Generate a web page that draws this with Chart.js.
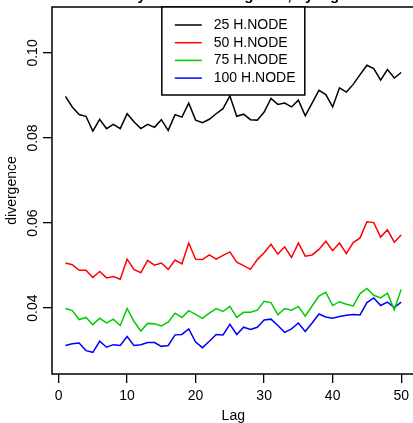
<!DOCTYPE html>
<html>
<head>
<meta charset="utf-8">
<script src="https://cdn.jsdelivr.net/npm/chart.js@4.4.0/dist/chart.umd.min.js"></script>
<style>
  html, body { margin: 0; padding: 0; overflow: hidden; background: #fff; }
  #wrap { position: relative; width: 416px; height: 423px; }
</style>
</head>
<body>
<div id="wrap"><canvas id="divChart" width="416" height="423"></canvas></div>
<script>
// Lags (x categories)
const lags = [1, 2, 3, 4, 5, 6, 7, 8, 9, 10,
              11, 12, 13, 14, 15, 16, 17, 18, 19, 20,
              21, 22, 23, 24, 25, 26, 27, 28, 29, 30,
              31, 32, 33, 34, 35, 36, 37, 38, 39, 40,
              41, 42, 43, 44, 45, 46, 47, 48, 49, 50];

// Divergence per hidden node count
const node25 = [0.0898, 0.0873, 0.0855, 0.0851, 0.0816, 0.0844, 0.0822, 0.0832, 0.0822, 0.0857,
                0.0838, 0.0822, 0.0832, 0.0825, 0.0843, 0.0818, 0.0855, 0.0849, 0.0882, 0.0842,
                0.0836, 0.0844, 0.0857, 0.0869, 0.0899, 0.0851, 0.0856, 0.0843, 0.0842, 0.0861,
                0.0893, 0.0879, 0.0882, 0.0873, 0.0889, 0.0852, 0.0882, 0.0912, 0.0902, 0.0873,
                0.0918, 0.0908, 0.0926, 0.0949, 0.0971, 0.0963, 0.0936, 0.0961, 0.0941, 0.0954];
const node50 = [0.0506, 0.0502, 0.0489, 0.0489, 0.0472, 0.0486, 0.0471, 0.0474, 0.0468, 0.0515,
                0.0491, 0.0483, 0.0512, 0.0501, 0.0506, 0.0491, 0.0513, 0.0504, 0.0553, 0.0515,
                0.0514, 0.0525, 0.0515, 0.0524, 0.0532, 0.0508, 0.0500, 0.0491, 0.0514, 0.0530,
                0.0550, 0.0527, 0.0544, 0.0519, 0.0553, 0.0522, 0.0525, 0.0538, 0.0557, 0.0535,
                0.0553, 0.0528, 0.0554, 0.0565, 0.0603, 0.0601, 0.0567, 0.0584, 0.0555, 0.0572];
const node75 = [0.0399, 0.0394, 0.0373, 0.0378, 0.0361, 0.0376, 0.0365, 0.0374, 0.0359, 0.0399,
                0.0369, 0.0346, 0.0364, 0.0363, 0.0358, 0.0367, 0.0388, 0.0378, 0.0394, 0.0385,
                0.0376, 0.0388, 0.0399, 0.0392, 0.0404, 0.0378, 0.0390, 0.0390, 0.0395, 0.0416,
                0.0413, 0.0384, 0.0399, 0.0395, 0.0404, 0.0381, 0.0405, 0.0428, 0.0437, 0.0406,
                0.0415, 0.0409, 0.0405, 0.0434, 0.0446, 0.0430, 0.0424, 0.0435, 0.0396, 0.0444];
const node100 = [0.0312, 0.0316, 0.0318, 0.0300, 0.0296, 0.0322, 0.0308, 0.0314, 0.0312, 0.0333,
                 0.0312, 0.0314, 0.0319, 0.0319, 0.0310, 0.0312, 0.0337, 0.0338, 0.0351, 0.0320,
                 0.0307, 0.0322, 0.0338, 0.0337, 0.0362, 0.0338, 0.0355, 0.0350, 0.0355, 0.0372,
                 0.0374, 0.0359, 0.0343, 0.0351, 0.0365, 0.0345, 0.0365, 0.0386, 0.0379, 0.0376,
                 0.0380, 0.0383, 0.0385, 0.0384, 0.0413, 0.0424, 0.0406, 0.0414, 0.0401, 0.0414];

const seriesNames = ['25 H.NODE', '50 H.NODE', '75 H.NODE', '100 H.NODE'];

// Tick labels
const xTicks = [0, 10, 20, 30, 40, 50];
const yTicks = [0.04, 0.06, 0.08, 0.10];
const yTickLabels = ['0.04', '0.06', '0.08', '0.10'];

const FONT = '"Liberation Sans", Arial, Helvetica, sans-serif';

function points(values) {
    return lags.map((lag, i) => ({ x: lag, y: values[i] }));
}

// R-style box, rotated y labels, legend and title
const rStyle = {
    id: 'rStyle',
    afterDraw(chart) {
        const { ctx, chartArea: a, scales } = chart;
        ctx.save();
        ctx.strokeStyle = '#000';
        ctx.lineWidth = 1.5;
        ctx.strokeRect(a.left, a.top, a.right - a.left, a.bottom - a.top);

        // y tick labels, parallel to axis
        ctx.fillStyle = '#000';
        ctx.font = '14px ' + FONT;
        ctx.textAlign = 'center';
        ctx.textBaseline = 'middle';
        yTicks.forEach((v, i) => {
            const py = scales.y.getPixelForValue(v);
            ctx.save();
            ctx.translate(a.left - 18.5, py);
            ctx.rotate(-Math.PI / 2);
            ctx.fillText(yTickLabels[i], 0, 0);
            ctx.restore();
        });

        // legend at top
        const boxW = 143, boxH = 88;
        const bx = (a.left + a.right) / 2 - boxW / 2;
        const by = a.top;
        ctx.fillStyle = '#fff';
        ctx.fillRect(bx, by, boxW, boxH);
        ctx.strokeRect(bx, by, boxW, boxH);
        ctx.textAlign = 'left';
        chart.data.datasets.forEach((ds, i) => {
            const ry = by + 18 + i * 17.7;
            ctx.strokeStyle = ds.borderColor;
            ctx.lineWidth = 1.5;
            ctx.beginPath();
            ctx.moveTo(bx + 13, ry);
            ctx.lineTo(bx + 40, ry);
            ctx.stroke();
            ctx.fillStyle = '#000';
            ctx.fillText(ds.label, bx + 52, ry);
        });

        // title (mostly above the picture)
        ctx.font = 'bold 15px ' + FONT;
        ctx.textAlign = 'center';
        ctx.textBaseline = 'alphabetic';
        ctx.fillText('Symmetric divergence, by lag', (a.left + a.right) / 2, -0.5);
        ctx.restore();
    }
};

const ctxDiv = document.getElementById('divChart').getContext('2d');
new Chart(ctxDiv, {
    type: 'line',
    data: {
        datasets: [
            { label: seriesNames[0], data: points(node25), borderColor: '#000000' },
            { label: seriesNames[1], data: points(node50), borderColor: '#ff0000' },
            { label: seriesNames[2], data: points(node75), borderColor: '#00cd00' },
            { label: seriesNames[3], data: points(node100), borderColor: '#0000ff' }
        ]
    },
    options: {
        responsive: false,
        animation: false,
        devicePixelRatio: 1,
        layout: { padding: { top: 7, right: 1.4, bottom: 0, left: 0 } },
        elements: {
            line: { borderWidth: 1.5, tension: 0, fill: false },
            point: { radius: 0 }
        },
        plugins: {
            legend: { display: false },
            tooltip: { enabled: false },
            title: { display: false }
        },
        scales: {
            x: {
                type: 'linear',
                min: -0.96,
                max: 51.96,
                afterBuildTicks: s => { s.ticks = xTicks.map(v => ({ value: v })); },
                afterFit: s => { s.height = 49; },
                ticks: {
                    color: '#000',
                    font: { family: FONT, size: 14 },
                    padding: 5,
                    maxRotation: 0,
                    autoSkip: false,
                    callback: v => String(v)
                },
                grid: { drawOnChartArea: false, drawTicks: true, tickLength: 9, color: '#000', lineWidth: 1.3 },
                border: { display: false },
                title: {
                    display: true, text: 'Lag', color: '#000',
                    font: { family: FONT, size: 14 },
                    padding: { top: 0, bottom: -1.5 }
                }
            },
            y: {
                type: 'linear',
                min: 0.0245,
                max: 0.1108,
                afterBuildTicks: s => { s.ticks = yTicks.map(v => ({ value: v })); },
                afterFit: s => { s.width = 52; },
                ticks: { display: false },
                grid: { drawOnChartArea: false, drawTicks: true, tickLength: 9, color: '#000', lineWidth: 1.3 },
                border: { display: false },
                title: {
                    display: true, text: 'divergence', color: '#000',
                    font: { family: FONT, size: 14 },
                    padding: { top: 4.2, bottom: 0 }
                }
            }
        }
    },
    plugins: [rStyle]
});
</script>
</body>
</html>
